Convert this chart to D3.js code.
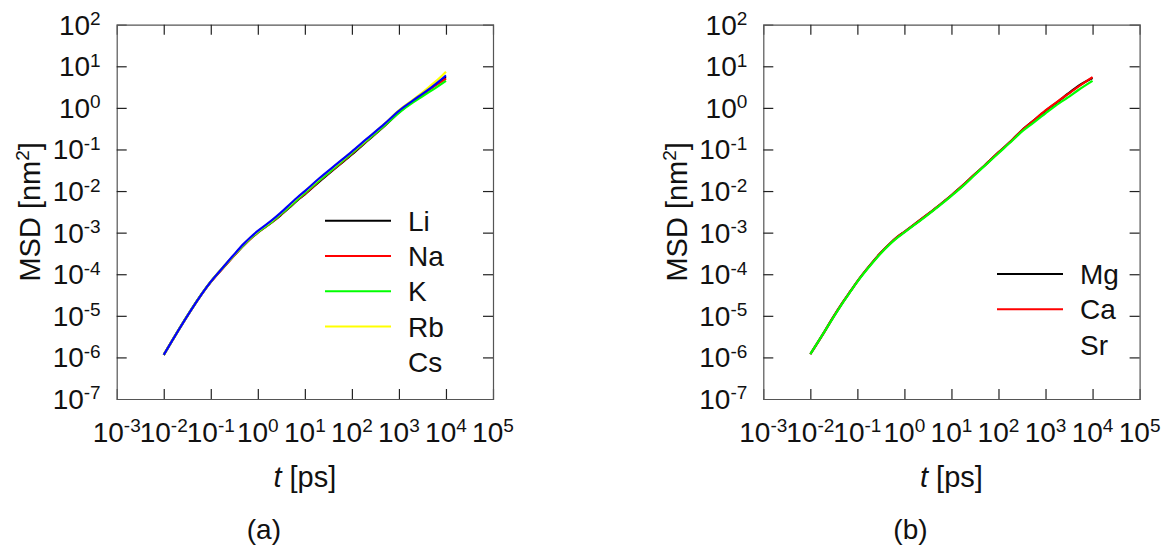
<!DOCTYPE html>
<html><head><meta charset="utf-8">
<script src="https://cdn.jsdelivr.net/npm/d3@7"></script>
<style>
body{margin:0;background:#fff;}
svg{display:block;font-family:Arial,"Liberation Sans",sans-serif;}
</style></head>
<body><svg id="c" width="1168" height="550"></svg>
<script>
// ---------- data ----------
const xTickExps = [-3,-2,-1,0,1,2,3,4,5];
const yTickExps = [-7,-6,-5,-4,-3,-2,-1,0,1,2];

// panel (a): alkali ions
const tA = [0.01,0.1,0.2,0.3,0.5,0.7,1,2,3,5,7,10,20,50,100,200,500,1000,2000,3000,5000,7000,10000];
const namesA = ["Li","Na","K","Rb","Cs"];
const colorsA = ["#000000","#ff0000","#00ff00","#ffff00","#0000ff"];
const legendLineA = [true,true,true,true,false];
const msdLi = [1.15e-6,6.61e-5,1.62e-4,2.69e-4,5.01e-4,7.24e-4,1.02e-3,1.78e-3,2.57e-3,4.27e-3,6.03e-3,8.32e-3,0.0166,0.0398,0.0759,0.151,0.372,0.776,1.45,2.04,3.09,4.07,5.50];
const msdNa = [1.15e-6,6.46e-5,1.58e-4,2.63e-4,4.90e-4,7.08e-4,1.00e-3,1.78e-3,2.63e-3,4.37e-3,6.17e-3,8.51e-3,0.0174,0.0407,0.0794,0.155,0.380,0.794,1.45,2.00,3.02,3.89,5.01];
const msdK  = [1.15e-6,6.61e-5,1.62e-4,2.69e-4,5.01e-4,7.24e-4,1.02e-3,1.82e-3,2.69e-3,4.47e-3,6.31e-3,8.91e-3,0.0178,0.0417,0.0813,0.158,0.380,0.759,1.35,1.82,2.63,3.39,4.47];
const msdRb = [1.15e-6,6.61e-5,1.66e-4,2.75e-4,5.25e-4,7.59e-4,1.07e-3,1.95e-3,2.88e-3,4.90e-3,6.92e-3,9.77e-3,0.0195,0.0457,0.0871,0.170,0.417,0.871,1.58,2.24,3.63,5.01,7.41];
const msdCs = [1.15e-6,6.61e-5,1.66e-4,2.82e-4,5.37e-4,7.76e-4,1.10e-3,2.00e-3,2.95e-3,5.01e-3,7.08e-3,1.00e-2,0.0200,0.0468,0.0891,0.174,0.417,0.851,1.51,2.09,3.16,4.27,6.03];

// panel (b): alkaline-earth ions
const tB = [0.01,0.02,0.03,0.05,0.07,0.1,0.2,0.3,0.5,0.7,1,2,3,5,7,10,20,30,50,100,200,300,500,1000,2000,3000,5000,10000];
const namesB = ["Mg","Ca","Sr"];
const colorsB = ["#000000","#ff0000","#00ff00"];
const legendLineB = [true,true,false];
const msdMg = [1.20e-6,4.17e-6,8.91e-6,2.19e-5,3.80e-5,6.76e-5,1.82e-4,3.09e-4,5.56e-4,7.76e-4,1.05e-3,1.88e-3,2.66e-3,4.17e-3,5.69e-3,7.94e-3,0.0157,0.0243,0.0407,0.0851,0.174,0.275,0.447,0.851,1.51,2.19,3.39,5.25];
const msdCa = [1.20e-6,4.17e-6,8.91e-6,2.19e-5,3.80e-5,6.76e-5,1.82e-4,3.09e-4,5.56e-4,7.76e-4,1.05e-3,1.88e-3,2.66e-3,4.17e-3,5.69e-3,7.94e-3,0.0157,0.0243,0.0407,0.0851,0.174,0.275,0.447,0.871,1.55,2.14,3.24,5.50];
const msdSr = [1.20e-6,4.17e-6,8.71e-6,2.14e-5,3.72e-5,6.61e-5,1.76e-4,2.99e-4,5.37e-4,7.50e-4,1.01e-3,1.82e-3,2.57e-3,4.03e-3,5.50e-3,7.67e-3,0.0151,0.0234,0.0398,0.0813,0.166,0.257,0.403,0.741,1.32,1.78,2.69,4.47];

const panelLabels = ["(a)","(b)"];
const xTitle = ["t"," [ps]"];
const yTitle = ["MSD [nm","2","]"];

// ---------- drawing ----------
const svg = d3.select("#c");
const W = 376.3, H = 374.3;

function supLabel(sel, exp){
  sel.append("tspan").text("10");
  sel.append("tspan").attr("font-size",19).attr("dy",-9.5).text(exp);
}

function panel(x0, t, series, names, colors, legendLine, legX, legY, label){
  const g = svg.append("g").attr("transform",`translate(${x0},24.7)`);
  const x = d3.scaleLog().domain([1e-3,1e5]).range([0,W]);
  const y = d3.scaleLog().domain([1e-7,1e2]).range([H,0]);

  // curves
  const line = d3.line().x((d,i)=>x(t[i])).y(d=>y(d)).curve(d3.curveMonotoneX);
  series.forEach((s,k)=>{
    g.append("path").attr("d",line(s)).attr("fill","none")
     .attr("stroke",colors[k]).attr("stroke-width",2.2).attr("stroke-linejoin","round");
  });

  // axes with inward ticks (all four sides)
  const xv = xTickExps.map(e=>Math.pow(10,e));
  const yv = yTickExps.map(e=>Math.pow(10,e));
  const axB = g.append("g").attr("transform",`translate(0,${H})`)
    .call(d3.axisTop(x).tickValues(xv).tickSize(10).tickFormat(""));
  const axT = g.append("g").call(d3.axisBottom(x).tickValues(xv).tickSize(10).tickFormat(""));
  const axL = g.append("g").call(d3.axisRight(y).tickValues(yv).tickSize(10).tickFormat(""));
  const axR = g.append("g").attr("transform",`translate(${W},0)`)
    .call(d3.axisLeft(y).tickValues(yv).tickSize(10).tickFormat(""));
  [axB,axT,axL,axR].forEach(a=>{
    a.select(".domain").attr("stroke","#555").attr("stroke-width",1.2);
    a.selectAll(".tick line").attr("stroke","#222").attr("stroke-width",1.2);
  });
  axB.selectAll(".tick").filter(d=>d===1e-3||d===1e5).select("line").remove();
  axT.selectAll(".tick").filter(d=>d===1e-3||d===1e5).select("line").remove();
  axL.selectAll(".tick").filter(d=>d===1e-7||d===1e2).select("line").remove();
  axR.selectAll(".tick").filter(d=>d===1e-7||d===1e2).select("line").remove();

  // tick labels
  xTickExps.forEach(e=>{
    const tx = g.append("text").attr("x",x(Math.pow(10,e))).attr("y",H+42.7)
      .attr("text-anchor","middle").attr("font-size",28).attr("fill","#111");
    supLabel(tx, e);
  });
  yTickExps.forEach(e=>{
    const ty = g.append("text").attr("x",-16).attr("y",y(Math.pow(10,e))+10)
      .attr("text-anchor","end").attr("font-size",28).attr("fill","#111");
    supLabel(ty, e);
  });

  // axis titles
  const xt = g.append("text").attr("x",W/2).attr("y",H+88).attr("text-anchor","middle")
    .attr("font-size",29).attr("fill","#111");
  xt.append("tspan").attr("font-style","italic").text(xTitle[0]);
  xt.append("tspan").text(xTitle[1]);
  const yt = g.append("text").attr("transform",`translate(-76.5,${H/2}) rotate(-90)`)
    .attr("text-anchor","middle").attr("font-size",29).attr("fill","#111");
  yt.append("tspan").text(yTitle[0]);
  yt.append("tspan").attr("font-size",19).attr("dy",-11).text(yTitle[1]);
  yt.append("tspan").attr("dy",11).text(yTitle[2]);

  // panel label
  g.append("text").attr("x",W/2-41).attr("y",514.3).attr("text-anchor","middle")
    .attr("font-size",28).attr("fill","#111").text(label);

  // legend
  names.forEach((n,k)=>{
    const ly = legY + k*35.3;
    if(legendLine[k]){
      svg.append("line").attr("x1",legX).attr("x2",legX+66).attr("y1",ly).attr("y2",ly)
        .attr("stroke",colors[k]).attr("stroke-width",2);
    }
    svg.append("text").attr("x",legX+83).attr("y",ly+10).attr("font-size",28)
      .attr("fill","#111").text(n);
  });
}

panel(116.7, tA, [msdLi,msdNa,msdK,msdRb,msdCs], namesA, colorsA, legendLineA, 325, 220.7, panelLabels[0]);
panel(763.3, tB, [msdMg,msdCa,msdSr], namesB, colorsB, legendLineB, 997, 274, panelLabels[1]);
</script></body></html>
